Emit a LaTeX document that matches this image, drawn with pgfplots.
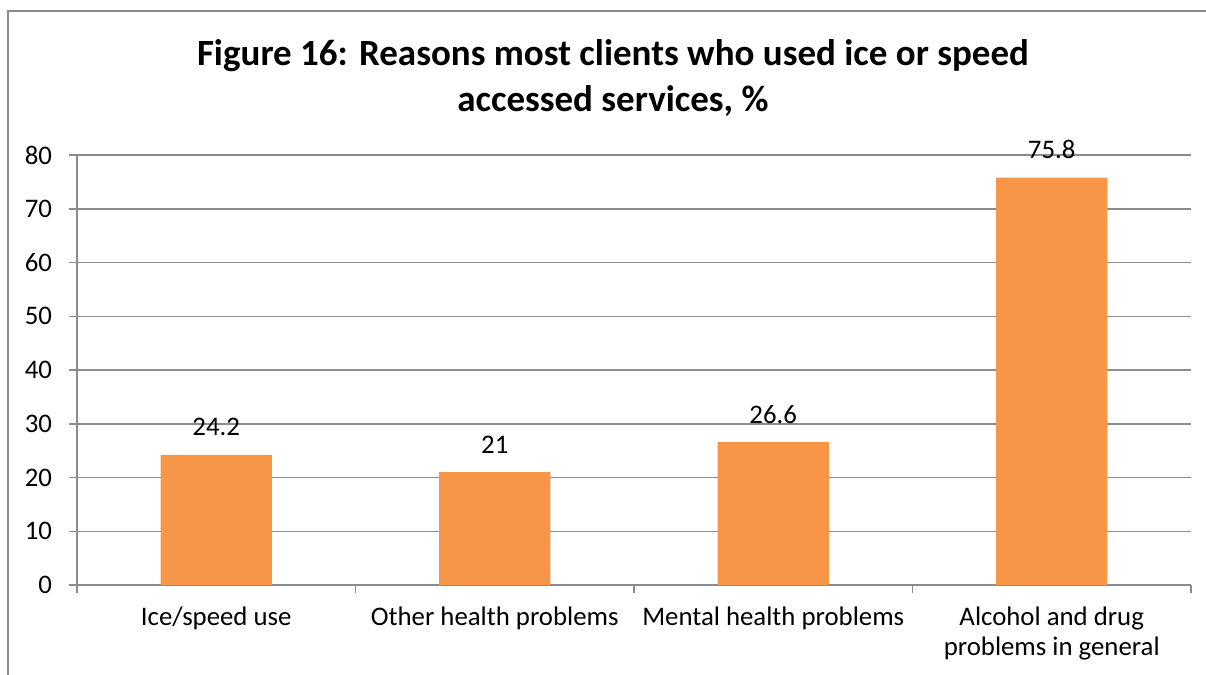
\documentclass[border=0pt]{standalone}
\usepackage{fontspec}
\setmainfont{Carlito}
\usepackage{pgfplots}
\pgfplotsset{compat=1.18}
\definecolor{barorange}{HTML}{F79646}
\definecolor{gridgray}{HTML}{8C8C8C}
\begin{document}
\begin{tikzpicture}[x=1pt,y=1pt]
\useasboundingbox (0,0) rectangle (603,337.5);
\draw[gridgray, line width=0.75pt] (4,0) -- (4,332) -- (603,332);
\node[anchor=base, inner sep=0pt, font=\bfseries\fontsize{18.5}{22}\selectfont] at (306.5,304.5) {Figure 16: Reasons most clients who used ice or speed};
\node[anchor=base, inner sep=0pt, font=\bfseries\fontsize{18.5}{22}\selectfont] at (306.5,281.5) {accessed services, \%};
\begin{axis}[
  at={(38.5pt,45pt)}, anchor=south west,
  scale only axis, width=557pt, height=215pt,
  xmin=-0.5, xmax=3.5, ymin=0, ymax=80,
  ytick={0,10,...,80},
  xtick={-0.5,0.5,1.5,2.5,3.5},
  xticklabels={},
  extra x ticks={0,1,2,3},
  extra x tick labels={Ice/speed use, Other health problems, Mental health problems, {Alcohol and drug\\problems in general}},
  extra x tick style={tick style={draw=none}},
  axis lines*=left,
  axis line style={gridgray, line width=0.75pt},
  tick align=outside,
  major tick length=4pt,
  tick style={gridgray, line width=0.75pt},
  ymajorgrids, grid style={gridgray, line width=0.75pt},
  /pgf/number format/assume math mode=true,
  ticklabel style={font=\fontsize{13.4}{15}\selectfont, text=black},
  xticklabel style={align=center, yshift=-3.5pt},
  yticklabel style={xshift=-5pt},
  clip=false,
]
\addplot[ybar, bar width=0.4, fill=barorange, draw=none,
  nodes near coords,
  nodes near coords style={anchor=base, yshift=9.5pt, font=\fontsize{13.4}{15}\selectfont, text=black}]
  coordinates {(0,24.2) (1,21) (2,26.6) (3,75.8)};
\end{axis}
\end{tikzpicture}
\end{document}
